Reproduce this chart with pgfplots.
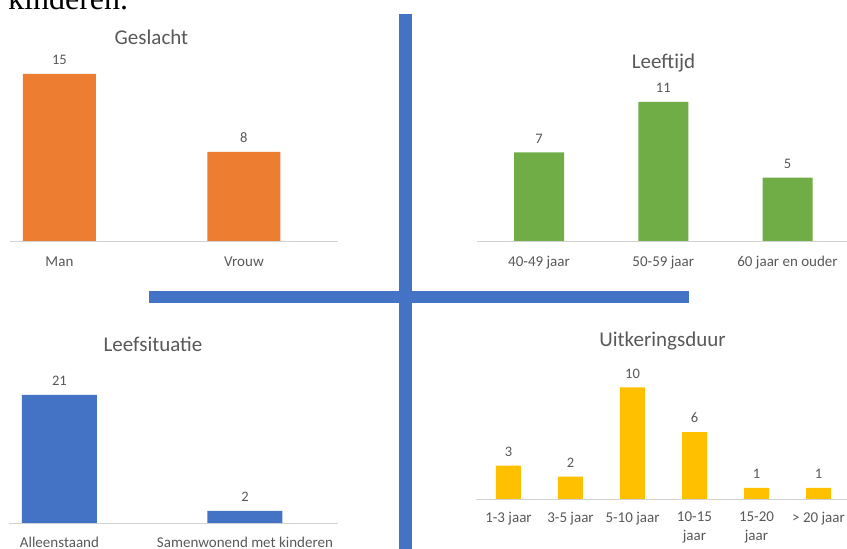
\documentclass[border=0pt]{standalone}
\usepackage{pgfplots}
\pgfplotsset{compat=1.18}
\usepackage{fontspec}
\setmainfont{Carlito}
\newfontfamily\serifont{Liberation Serif}
\definecolor{orangeB}{HTML}{ED7D31}
\definecolor{greenB}{HTML}{70AD47}
\definecolor{blueB}{HTML}{4472C4}
\definecolor{yellowB}{HTML}{FFC000}
\definecolor{txt}{HTML}{595959}
\pgfplotsset{mybar/.style={scale only axis, ybar, clip=false, ymin=0,
  hide y axis, axis x line*=bottom,
  x axis line style={-, draw=gray!35, line width=0.8pt},
  xtick=data, major tick length=0pt, xtick style={draw=none},
  enlargelimits=false, nodes near coords,
  every node near coord/.append style={anchor=south, inner sep=0pt, yshift=9pt,
    font=\fontsize{14.5}{17}\selectfont, text=txt},
  xticklabel style={anchor=north, inner sep=0pt,
    font=\fontsize{15}{19}\selectfont, text=txt, align=center},
  /pgf/number format/assume math mode=true}}
\begin{document}
\begin{tikzpicture}[x=1pt,y=1pt]
\path[use as bounding box] (0,0) rectangle (847,549);
\clip (0,0) rectangle (847,549);
\fill[white] (0,0) rectangle (847,549);
% cut-off text at top
\node[anchor=base west, inner sep=0pt, font=\serifont\fontsize{32}{36}\selectfont] at (8,539) {kinderen.};
% Geslacht
\begin{axis}[mybar, at={(10pt,308pt)}, anchor=south west, width=328pt, height=167pt,
  xmin=-0.268, xmax=1.51, ymax=15, bar width=73pt,
  xticklabels={Man, Vrouw}, xticklabel style={yshift=-16pt}]
\addplot[fill=orangeB, draw=none] coordinates {(0,15) (1,8)};
\end{axis}
% Leeftijd
\begin{axis}[mybar, at={(476.9pt,308pt)}, anchor=south west, width=372.75pt, height=139.2pt,
  xmin=-0.5, xmax=2.5, ymax=11, bar width=50pt,
  xticklabels={40-49 jaar, 50-59 jaar, 60 jaar en ouder}, xticklabel style={yshift=-15pt}]
\addplot[fill=greenB, draw=none] coordinates {(0,7) (1,11) (2,5)};
\end{axis}
% Leefsituatie
\begin{axis}[mybar, at={(9pt,26pt)}, anchor=south west, width=328.9pt, height=128.1pt,
  xmin=-0.272, xmax=1.501, ymax=21, bar width=75pt,
  xticklabels={Alleenstaand, Samenwonend met kinderen}, xticklabel style={yshift=-14pt}]
\addplot[fill=blueB, draw=none] coordinates {(0,21) (1,2)};
\end{axis}
% Uitkeringsduur
\begin{axis}[mybar, at={(476pt,50pt)}, anchor=south west, width=373.5pt, height=111.5pt,
  xmin=-0.524, xmax=5.5, ymax=10, bar width=25pt,
  xticklabels={1-3 jaar, 3-5 jaar, 5-10 jaar, {10-15\\jaar}, {15-20\\jaar}, {> 20 jaar}},
  xticklabel style={yshift=-13pt}]
\addplot[fill=yellowB, draw=none] coordinates {(0,3) (1,2) (2,10) (3,6) (4,1) (5,1)};
\end{axis}
% titles
\begin{scope}[every node/.style={anchor=base, inner sep=0pt, text=txt, font=\fontsize{21}{25}\selectfont}]
\node at (151.5,504) {Geslacht};
\node at (663.5,480) {Leeftijd};
\node at (153,197) {Leefsituatie};
\node at (662.5,202) {Uitkeringsduur};
\end{scope}
% blue cross
\fill[blueB] (399,0) rectangle (412,535);
\fill[blueB] (149,246) rectangle (689,258);
\end{tikzpicture}
\end{document}
